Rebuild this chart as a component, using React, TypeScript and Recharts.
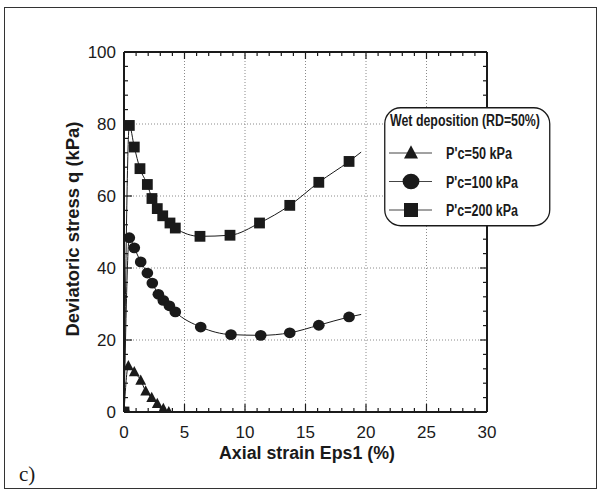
import React from "react";
import { ComposedChart, Line, XAxis, YAxis, CartesianGrid, Legend, ReferenceLine } from "recharts";

// P'c = 50 kPa
const strain50 = [0, 0.36, 0.85, 1.38, 1.79, 2.29, 2.75, 3.25, 3.7];
const q50 = [0, 12.8, 11.1, 8.8, 5.8, 4.0, 2.3, 0.9, 0];

// P'c = 100 kPa
const strain100 = [0, 0.44, 0.85, 1.38, 1.93, 2.34, 2.84, 3.25, 3.75, 4.24, 6.34, 8.84, 11.3, 13.7, 16.1, 18.6];
const q100 = [0, 48.4, 45.6, 41.7, 38.6, 35.8, 32.7, 31.0, 29.5, 27.8, 23.6, 21.5, 21.3, 22.0, 24.1, 26.4];
const end100 = [19.6, 27.1];

// P'c = 200 kPa
const strain200 = [0, 0.44, 0.85, 1.32, 1.93, 2.31, 2.75, 3.2, 3.8, 4.24, 6.28, 8.76, 11.2, 13.7, 16.1, 18.6];
const q200 = [0, 79.6, 73.6, 67.6, 63.2, 59.3, 56.5, 54.5, 52.5, 51.1, 48.8, 49.1, 52.5, 57.4, 63.8, 69.6];
const end200 = [19.6, 72.2];

const xTicks = [0, 1, 2, 3, 4, 5, 6, 7, 8, 9, 10, 11, 12, 13, 14, 15, 16, 17, 18, 19, 20, 21, 22, 23, 24, 25, 26, 27, 28, 29, 30];
const xLabels = [0, 5, 10, 15, 20, 25, 30];
const yTicks = [0, 4, 8, 12, 16, 20, 24, 28, 32, 36, 40, 44, 48, 52, 56, 60, 64, 68, 72, 76, 80, 84, 88, 92, 96, 100];
const yLabels = [0, 20, 40, 60, 80, 100];
const xFrame = [0, 30];
const yFrame = [0, 100];

const legendTitle = "Wet deposition (RD=50%)";
const seriesNames = ["P'c=50 kPa", "P'c=100 kPa", "P'c=200 kPa"];

const toPoints = (xs: number[], ys: number[], end?: number[]) => {
    const pts = xs.map((x, i) => ({ x, q: ys[i], end: false }));
    if (end) pts.push({ x: end[0], q: end[1], end: true });
    return pts;
};

const data50 = toPoints(strain50, q50);
const data100 = toPoints(strain100, q100, end100);
const data200 = toPoints(strain200, q200, end200);

const INK = "#1a1a1a";
const narrow = "'Liberation Sans Narrow', 'Arial Narrow', 'Liberation Sans', Arial, sans-serif";
const sans = "'Liberation Sans', Arial, sans-serif";

function drawMarker(shape: string, cx: number, cy: number, s: number) {
    if (shape === "triangle") {
        return <polygon points={`${cx},${cy - s * 1.1} ${cx - s},${cy + s * 0.8} ${cx + s},${cy + s * 0.8}`} fill={INK} />;
    }
    if (shape === "circle") {
        return <ellipse cx={cx} cy={cy} rx={s * 1.08} ry={s} fill={INK} />;
    }
    return <rect x={cx - s} y={cy - s} width={s * 2} height={s * 2} fill={INK} />;
}

const makeDot = (shape: string) => (props: any) => {
    const { cx, cy, payload, index } = props;
    if (payload.end || cx == null) return <g key={index} />;
    return <g key={index}>{drawMarker(shape, cx, cy, 5.4)}</g>;
};

const BottomTick = (props: any) => {
    const { x, y, payload } = props;
    const major = xLabels.includes(payload.value);
    return (
        <g>
            <line x1={x} x2={x} y1={y} y2={y - (major ? 8 : 4)} stroke={INK} strokeWidth={1.2} />
            {major && (
                <text x={x} y={y + 26} textAnchor="middle" fontFamily={sans} fontSize={17} fill={INK}>
                    {payload.value}
                </text>
            )}
        </g>
    );
};

const TopTick = (props: any) => {
    const { x, y, payload } = props;
    const major = xLabels.includes(payload.value);
    return <line x1={x} x2={x} y1={y} y2={y + (major ? 7 : 4)} stroke={INK} strokeWidth={1.2} />;
};

const LeftTick = (props: any) => {
    const { x, y, payload } = props;
    const major = yLabels.includes(payload.value);
    return (
        <g>
            <line x1={x} x2={x + (major ? 8 : 4)} y1={y} y2={y} stroke={INK} strokeWidth={1.2} />
            {major && (
                <text x={x - 8} y={y + 6} textAnchor="end" fontFamily={sans} fontSize={17} fill={INK}>
                    {payload.value}
                </text>
            )}
        </g>
    );
};

const RightTick = (props: any) => {
    const { x, y, payload } = props;
    const major = yLabels.includes(payload.value);
    return <line x1={x} x2={x - (major ? 7 : 4)} y1={y} y2={y} stroke={INK} strokeWidth={1.2} />;
};

const XTitle = (props: any) => {
    const { viewBox } = props;
    const cx = viewBox.x + viewBox.width / 2;
    return (
        <text x={cx + 1.5} y={viewBox.y + 47} textAnchor="middle" fontFamily={narrow} fontWeight="bold" fontSize={18}
            fill={INK} textLength={176} lengthAdjust="spacingAndGlyphs">
            Axial strain Eps1 (%)
        </text>
    );
};

const YTitle = (props: any) => {
    const { viewBox } = props;
    const cy = viewBox.y + viewBox.height / 2;
    const x = 79;
    return (
        <text x={x} y={cy - 3} transform={`rotate(-90 ${x} ${cy - 3})`} textAnchor="middle" fontFamily={narrow}
            fontWeight="bold" fontSize={18} fill={INK} textLength={215} lengthAdjust="spacingAndGlyphs">
            Deviatoric stress q (kPa)
        </text>
    );
};

const shapes = ["triangle", "circle", "square"];

const LegendBox = () => (
    <svg width={210} height={120} style={{ display: "block", overflow: "visible" }}>
        <rect x={0.75} y={0.75} width={165} height={118} rx={16} ry={16} fill="#fff" stroke={INK} strokeWidth={1.3} />
        <text x={6} y={19} fontFamily={narrow} fontWeight="bold" fontSize={16} fill={INK} textLength={150}
            lengthAdjust="spacingAndGlyphs">
            {legendTitle}
        </text>
        {seriesNames.map((name, i) => {
            const cy = 46 + i * 28.5;
            return (
                <g key={name}>
                    <line x1={5} x2={48} y1={cy} y2={cy} stroke="#444" strokeWidth={1} />
                    {drawMarker(shapes[i], 27, cy, i === 1 ? 7.8 : 7)}
                    <text x={62} y={cy + 6} fontFamily={narrow} fontWeight="bold" fontSize={16} fill={INK}
                        textLength={i === 0 ? 66 : 72} lengthAdjust="spacingAndGlyphs">
                        {name}
                    </text>
                </g>
            );
        })}
    </svg>
);

export default function App() {
    return (
        <div style={{ position: "absolute", left: 0, top: 0, width: 604, height: 494, background: "#fff" }}>
            <div style={{ position: "absolute", left: 4, top: 7, width: 591, height: 480, border: "1.5px solid #333" }} />
            <ComposedChart width={604} height={494} margin={{ top: 51, right: 116, bottom: 0, left: 0 }}>
                <CartesianGrid
                    verticalValues={[5, 10, 15, 20, 25]}
                    horizontalValues={[20, 40, 60, 80]}
                    stroke="#8a8a8a"
                    strokeDasharray="1 2"
                />
                <XAxis dataKey="x" type="number" domain={[0, 30]} ticks={xTicks} interval={0} height={82}
                    tickSize={0} tickMargin={0} tickLine={false} tick={<BottomTick />}
                    axisLine={false} allowDataOverflow label={<XTitle />} />
                <XAxis xAxisId="top" dataKey="x" type="number" orientation="top" domain={[0, 30]} ticks={xTicks}
                    interval={0} height={1} tickSize={0} tickMargin={0} tickLine={false} tick={<TopTick />}
                    axisLine={false} allowDataOverflow />
                <YAxis type="number" domain={[0, 100]} ticks={yTicks} interval={0} width={124} tickSize={0}
                    tickMargin={0} tickLine={false} tick={<LeftTick />} axisLine={false}
                    allowDataOverflow label={<YTitle />} />
                <YAxis yAxisId="right" type="number" orientation="right" domain={[0, 100]} ticks={yTicks}
                    interval={0} width={1} tickSize={0} tickMargin={0} tickLine={false} tick={<RightTick />}
                    axisLine={false} allowDataOverflow />
                {xFrame.map((v) => (
                    <ReferenceLine key={`fx${v}`} x={v} stroke={INK} strokeWidth={2} ifOverflow="visible" />
                ))}
                {yFrame.map((v) => (
                    <ReferenceLine key={`fy${v}`} y={v} stroke={INK} strokeWidth={2} ifOverflow="visible" />
                ))}
                <Line data={data50} dataKey="q" name={seriesNames[0]} type="monotone" stroke={INK}
                    strokeWidth={1} dot={makeDot("triangle")} activeDot={false} isAnimationActive={false} />
                <Line data={data100} dataKey="q" name={seriesNames[1]} type="monotone" stroke={INK}
                    strokeWidth={1} dot={makeDot("circle")} activeDot={false} isAnimationActive={false} />
                <Line data={data200} dataKey="q" name={seriesNames[2]} type="monotone" stroke={INK}
                    xAxisId="top" yAxisId="right"
                    strokeWidth={1} dot={makeDot("square")} activeDot={false} isAnimationActive={false} />
                <Legend content={<LegendBox />} layout="horizontal" verticalAlign="middle" align="center"
                    wrapperStyle={{ position: "absolute", left: 384, top: 107, width: 167, height: 120 }} />
            </ComposedChart>
            <div style={{ position: "absolute", left: 19, top: 462, fontFamily: "'Liberation Serif', 'Times New Roman', serif", fontSize: 21, color: INK }}>
                c)
            </div>
        </div>
    );
}
